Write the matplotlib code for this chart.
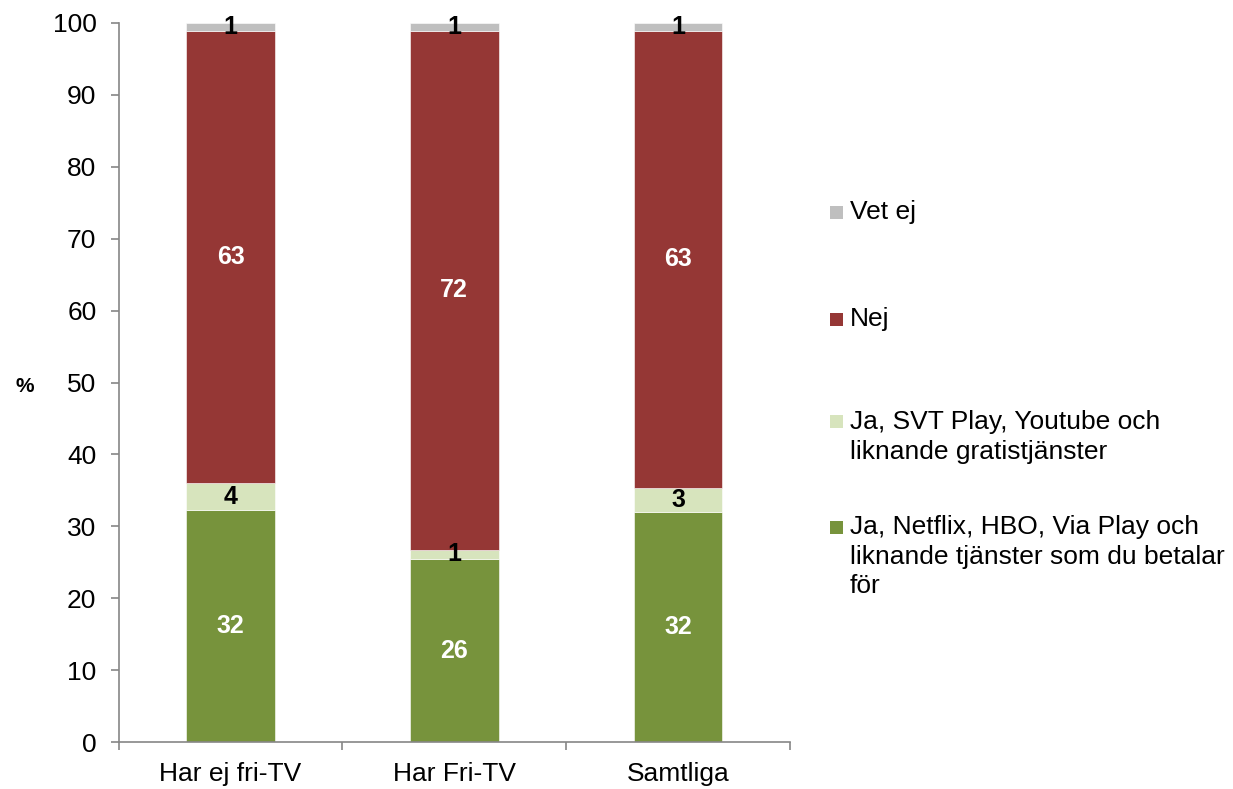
import matplotlib
matplotlib.use("Agg")
import matplotlib.pyplot as plt
from matplotlib.patches import Rectangle
import numpy as np

plt.rcParams['font.family'] = ['Liberation Sans', 'DejaVu Sans']

# data (percent)
categories = ["Har ej fri-TV", "Har Fri-TV", "Samtliga"]
betal = [32.3, 25.5, 32.0]
gratis = [3.7, 1.2, 3.4]
nej = [62.9, 72.2, 63.4]
vet_ej = [1.1, 1.1, 1.2]

series_names = ["Ja, Netflix, HBO, Via Play och\nliknande tjänster som du betalar\nför",
                "Ja, SVT Play, Youtube och\nliknande gratistjänster",
                "Nej",
                "Vet ej"]
colors = ["#77933C", "#D7E4BD", "#953735", "#BFBFBF"]
label_colors = ["white", "black", "white", "black"]

W, H = 1233, 789
fig = plt.figure(figsize=(W / 100, H / 100), dpi=100)
ax = fig.add_axes([118.6 / W, (H - 742.3) / H, (790 - 118.6) / W, (742.3 - 22.7) / H])

x = np.arange(len(categories))
bottom = np.zeros(len(categories))
for vals, col, lc in zip([betal, gratis, nej, vet_ej], colors, label_colors):
    vals = np.array(vals)
    ax.bar(x, vals, 0.395, bottom=bottom, color=col, edgecolor="white", linewidth=0.4)
    for xi, b, v in zip(x, bottom, vals):
        ax.text(xi, b + v / 2, str(int(round(v))), ha="center", va="center",
                color=lc, fontsize=18, fontweight="bold")
    bottom += vals

ax.set_xlim(-0.5, 2.5)
ax.set_ylim(0, 100)
ax.set_yticks(range(0, 101, 10))
ax.set_xticks(x)
ax.set_xticklabels(categories)
ax.set_xticks([-0.5, 0.5, 1.5, 2.5], minor=True)
ax.tick_params(axis="x", which="major", length=0, pad=14, labelsize=19)
ax.tick_params(axis="x", which="minor", length=6, color="#868686", width=1.2)
ax.tick_params(axis="y", length=6, color="#868686", width=1.2, labelsize=19, pad=10)
for s in ["top", "right"]:
    ax.spines[s].set_visible(False)
for s in ["left", "bottom"]:
    ax.spines[s].set_color("#868686")
    ax.spines[s].set_linewidth(1.2)

fig.text(25 / W, (H - 387) / H, "%", fontsize=15, fontweight="bold", ha="center", va="center")

# legend drawn manually to match layout (top to bottom: Vet ej, Nej, Gratis, Betal)
leg_y = [212, 319, 422, 527]
for name, col, yp in zip(series_names[::-1], colors[::-1], leg_y):
    fy = (H - yp) / H
    fig.patches.append(Rectangle((830 / W, fy - 6.5 / H), 13 / W, 13 / H,
                                 transform=fig.transFigure, facecolor=col, edgecolor="none"))
    fig.text(850 / W, fy + 12 / H, name, fontsize=19, ha="left", va="top",
             linespacing=1.3)

fig.savefig("out.png", dpi=100)
